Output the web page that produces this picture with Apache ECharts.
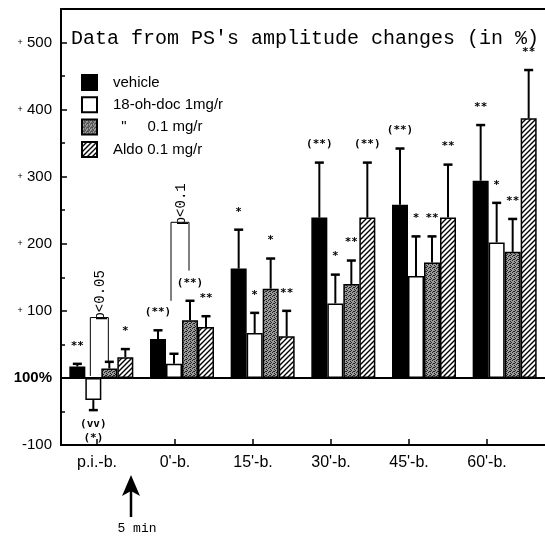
<!DOCTYPE html>
<html>
<head>
<meta charset="utf-8" />
<title>PS amplitude changes</title>
<script src="https://cdn.jsdelivr.net/npm/echarts@6/dist/echarts.min.js"></script>
<style>
  html, body { margin: 0; padding: 0; background: #fff; }
  #main { width: 545px; height: 538px; }
</style>
</head>
<body>
<div id="main"></div>
<script>
// categories + values (in % change)
var categories = ['p.i.-b.', "0'-b.", "15'-b.", "30'-b.", "45'-b.", "60'-b."];
var seriesNames = ['vehicle', '18-oh-doc 1mg/r', '  "     0.1 mg/r', 'Aldo 0.1 mg/r'];

var vehicle   = [17, 58, 163, 239, 258, 294];
var doc1      = [-33, 21, 67, 111, 152, 202];
var doc01     = [14, 86, 133, 140, 172, 188];
var aldo      = [31, 76, 62, 239, 239, 387];

// where the error bar ends
var vehicleErr = [21, 71, 221, 321, 342, 377];
var doc1Err    = [-48, 36, 97, 154, 211, 261];
var doc01Err   = [24, 115, 178, 175, 211, 237];
var aldoErr    = [43, 92, 100, 321, 318, 459];

// significance marks
var vehicleStars = ['**', '(**)', '*', '(**)', '(**)', '**'];
var doc1Stars    = ['(vv)\n(*)', '', '*', '*', '*', '*'];
var doc01Stars   = ['', '(**)', '*', '**', '**', '**'];
var aldoStars    = ['*', '**', '**', '(**)', '**', '**'];

// brackets: category, from series, to series, top, left foot, right foot
var bracketCats  = [0, 1];
var bracketFrom  = [1, 1];
var bracketTo    = [2, 2];
var bracketTop   = [90, 232];
var bracketLeft  = [3, 115];
var bracketRight = [25, 160];
var bracketText  = ['p<0.05', 'p<0.1'];

var yTicks = [-100, 0, 100, 200, 300, 400, 500];

var BAR_W = 16;
var values = [vehicle, doc1, doc01, aldo];
var errs = [vehicleErr, doc1Err, doc01Err, aldoErr];
var stars = [vehicleStars, doc1Stars, doc01Stars, aldoStars];

function hatchPattern() {
  var c = document.createElement('canvas');
  c.width = 5; c.height = 5;
  var g = c.getContext('2d');
  g.fillStyle = '#fff';
  g.fillRect(0, 0, 5, 5);
  g.strokeStyle = '#000';
  g.lineWidth = 1.4;
  g.beginPath();
  g.moveTo(-1, 6); g.lineTo(6, -1);
  g.moveTo(-1, 1); g.lineTo(1, -1);
  g.moveTo(4, 6); g.lineTo(6, 4);
  g.stroke();
  return c;
}
function stipplePattern() {
  var c = document.createElement('canvas');
  c.width = 4; c.height = 4;
  var g = c.getContext('2d');
  g.fillStyle = '#9a9a9a';
  g.fillRect(0, 0, 4, 4);
  g.fillStyle = '#222';
  [[0, 0], [2, 1], [1, 3], [3, 2], [2, 3]].forEach(function (p) { g.fillRect(p[0], p[1], 1, 1); });
  return c;
}

var fills = ['#000', '#fff', { image: stipplePattern(), repeat: 'repeat' }, { image: hatchPattern(), repeat: 'repeat' }];

var errData = [];
for (var s = 0; s < 4; s++) {
  for (var c = 0; c < categories.length; c++) {
    errData.push([c, s, values[s][c], errs[s][c]]);
  }
}
var bracketData = bracketCats.map(function (c, i) {
  return [c, bracketFrom[i], bracketTo[i], bracketTop[i], bracketLeft[i], bracketRight[i], i];
});

function renderErr(params, api) {
  var c = api.value(0), s = api.value(1), v = api.value(2), e = api.value(3);
  var x = api.coord([c, 0])[0] + (s - 1.5) * BAR_W;
  var y0 = api.coord([c, v])[1];
  var y1 = api.coord([c, e])[1];
  var up = e >= v;
  var kids = [
    { type: 'line', shape: { x1: x, y1: y0, x2: x, y2: y1 }, style: { stroke: '#000', lineWidth: 2 } },
    { type: 'line', shape: { x1: x - 4.5, y1: y1, x2: x + 4.5, y2: y1 }, style: { stroke: '#000', lineWidth: 2.5 } }
  ];
  var txt = stars[s][c];
  if (txt) {
    kids.push({
      type: 'text', x: x, y: up ? y1 - 18 : y1 + 7,
      style: { text: txt, font: 'bold 11px "DejaVu Sans Mono"', fill: '#000', align: 'center',
               verticalAlign: up ? 'middle' : 'top', lineHeight: 14 }
    });
  }
  return { type: 'group', children: kids };
}

function renderBracket(params, api) {
  var c = api.value(0);
  var cx = api.coord([c, 0])[0];
  var xl = cx + (api.value(1) - 1.5) * BAR_W - 3;
  var xr = cx + (api.value(2) - 1.5) * BAR_W - 1;
  var yt = api.coord([c, api.value(3)])[1];
  var yl = api.coord([c, api.value(4)])[1];
  var yr = api.coord([c, api.value(5)])[1];
  return {
    type: 'group',
    children: [
      { type: 'polyline', shape: { points: [[xl, yl], [xl, yt], [xr, yt], [xr, yr]] },
        style: { stroke: '#000', lineWidth: 1, fill: null } },
      { type: 'text', x: (xl + xr) / 2 + 1, y: yt + 3, rotation: Math.PI / 2,
        style: { text: bracketText[api.value(6)], font: '14px "Liberation Mono"', fill: '#000',
                 align: 'left', verticalAlign: 'middle' } }
    ]
  };
}

var chart = echarts.init(document.getElementById('main'), null, { renderer: 'canvas' });

var barSeries = seriesNames.map(function (name, i) {
  var o = {
    name: name,
    type: 'bar',
    data: values[i],
    barWidth: BAR_W,
    barGap: '0%',
    itemStyle: { color: fills[i], borderColor: '#000', borderWidth: 1.5 },
    emphasis: { disabled: true }
  };
  if (i === 0) {
    o.markLine = {
      silent: true, symbol: ['none', 'none'], label: { show: false },
      lineStyle: { color: '#000', width: 2, type: 'solid' },
      data: [{ yAxis: 0 }]
    };
  }
  return o;
});

var option = {
  animation: false,
  backgroundColor: '#fff',
  title: {
    text: "Data from PS's amplitude changes (in %)",
    left: 71, top: 29, padding: 0,
    textStyle: { fontFamily: '"Liberation Mono", monospace', fontSize: 20, fontWeight: 'normal', color: '#000' }
  },
  legend: {
    data: seriesNames,
    orient: 'vertical',
    left: 81, top: 74,
    icon: 'rect',
    itemWidth: 15, itemHeight: 15, itemGap: 5.3,
    padding: 0,
    selectedMode: false,
    textStyle: { fontFamily: '"Liberation Sans", Arial', fontSize: 15, color: '#000', padding: [0, 0, 0, 11], lineHeight: 15 }
  },
  grid: [
    { left: 61, right: 0, top: 9, bottom: 93 },
    { left: 58, right: 19, top: 9, bottom: 93 }
  ],
  xAxis: [
    { type: 'category', gridIndex: 0, data: categories, position: 'bottom',
      axisLine: { onZero: false, lineStyle: { color: '#000', width: 2 } },
      axisTick: { show: false }, axisLabel: { show: false } },
    { type: 'category', gridIndex: 0, data: categories, position: 'top',
      axisLine: { onZero: false, lineStyle: { color: '#000', width: 2 } },
      axisTick: { show: false }, axisLabel: { show: false } },
    { type: 'category', gridIndex: 1, data: categories, position: 'bottom',
      axisLine: { show: false, onZero: false },
      axisTick: { show: true, inside: true, alignWithLabel: true, length: 6, lineStyle: { color: '#000', width: 1.5 } },
      axisLabel: { color: '#000', fontSize: 16, fontFamily: '"Liberation Sans", Arial', margin: 10 } }
  ],
  yAxis: [
    { type: 'value', gridIndex: 0, min: -100, max: 550, interval: 100,
      axisLine: { show: true, lineStyle: { color: '#000', width: 2 } },
      axisTick: { show: true, inside: true, length: 6, lineStyle: { color: '#000', width: 1.5 } },
      minorTick: { show: true, splitNumber: 2, length: 4, lineStyle: { color: '#000', width: 1.5 } },
      splitLine: { show: false },
      axisLabel: {
        showMaxLabel: false, margin: 9, color: '#000',
        fontFamily: '"Liberation Sans", Arial', fontSize: 15,
        formatter: function (v) {
          if (yTicks.indexOf(v) < 0) return '';
          if (v === 0) return '{b|100%}';
          if (v > 0) return '{p|+} ' + v;
          return String(v);
        },
        rich: {
          p: { fontSize: 9, color: '#000' },
          b: { fontSize: 15, fontWeight: 'bold', color: '#000', fontFamily: '"Liberation Sans", Arial' }
        }
      } },
    { type: 'value', gridIndex: 1, min: -100, max: 550, show: false }
  ],
  series: barSeries.concat([
    { type: 'custom', name: 'err', renderItem: renderErr, data: errData, clip: false, silent: true, z: 5,
      encode: { x: 0, y: 3 } },
    { type: 'custom', name: 'brackets', renderItem: renderBracket, data: bracketData, clip: false, silent: true, z: 5,
      encode: { x: 0, y: 3 } }
  ]),
  graphic: [
    { type: 'polygon', shape: { points: [[131, 475], [122, 496], [131, 491], [140, 496]] }, style: { fill: '#000' } },
    { type: 'line', shape: { x1: 131, y1: 490, x2: 131, y2: 517 }, style: { stroke: '#000', lineWidth: 2.5 } },
    { type: 'text', x: 137, y: 529, style: { text: '5 min', font: '13px "Liberation Mono"', fill: '#000', align: 'center', verticalAlign: 'middle' } }
  ]
};

chart.setOption(option);
</script>
</body>
</html>
